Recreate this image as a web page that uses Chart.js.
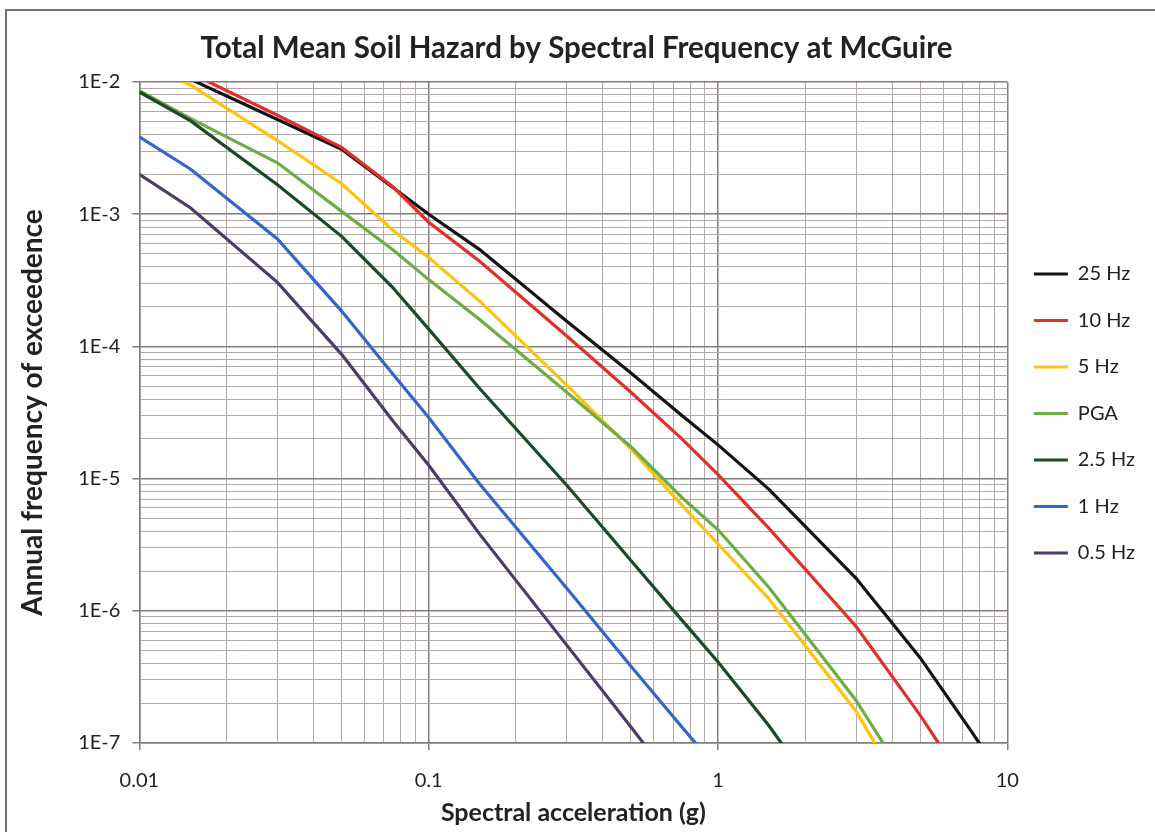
<!DOCTYPE html>
<html>
<head>
<meta charset="utf-8">
<script src="https://cdn.jsdelivr.net/npm/chart.js@4.4.0/dist/chart.umd.min.js"></script>
<style>
  html, body { margin: 0; padding: 0; background: #fff; }
  #wrap { position: relative; width: 1155px; height: 832px; overflow: hidden; }
  #frame {
    position: absolute; left: 5px; top: 9px; right: -20px; bottom: -20px;
    border-top: 2px solid #777171; border-left: 2px solid #777171;
    pointer-events: none;
  }
</style>
</head>
<body>
<div id="wrap">
  <canvas id="hazard" width="1155" height="832"></canvas>
  <div id="frame"></div>
</div>
<script>
// spectral acceleration (g) at which the hazard was computed
const accel = [0.01, 0.015, 0.03, 0.05, 0.075, 0.1, 0.15, 0.3, 0.5, 0.75, 1, 1.5, 3, 5, 7.5, 10];

// annual frequency of exceedence, one array per curve
const hz25  = [1.5e-2, 1.05e-2, 5.2e-3, 3.1e-3, 1.6e-3, 1.0e-3, 5.4e-4, 1.55e-4, 6.3e-5, 3.0e-5, 1.8e-5, 8.3e-6, 1.76e-6, 4.4e-7, 1.23e-7, 4.8e-8];
const hz10  = [1.7e-2, 1.17e-2, 5.6e-3, 3.2e-3, 1.62e-3, 8.7e-4, 4.4e-4, 1.2e-4, 4.5e-5, 2.0e-5, 1.07e-5, 4.2e-6, 7.6e-7, 1.62e-7, 4.2e-8, null];
const hz5   = [1.4e-2, 9.5e-3, 3.6e-3, 1.7e-3, 7.6e-4, 4.7e-4, 2.2e-4, 5.1e-5, 1.68e-5, 6.3e-6, 3.2e-6, 1.23e-6, 1.74e-7, 2.6e-8, null, null];
const pga   = [8.6e-3, 5.3e-3, 2.45e-3, 1.05e-3, 5.4e-4, 3.2e-4, 1.6e-4, 4.5e-5, 1.74e-5, 7.2e-6, 4.1e-6, 1.5e-6, 2.1e-7, 3.6e-8, null, null];
const hz2_5 = [8.4e-3, 5.1e-3, 1.67e-3, 6.8e-4, 2.8e-4, 1.35e-4, 4.8e-5, 8.9e-6, 2.4e-6, 8.5e-7, 4.1e-7, 1.35e-7, 1.6e-8, null, null, null];
const hz1   = [3.85e-3, 2.2e-3, 6.5e-4, 1.85e-4, 6.2e-5, 2.9e-5, 9.1e-6, 1.48e-6, 3.8e-7, 1.32e-7, 6.3e-8, null, null, null, null, null];
const hz0_5 = [2.0e-3, 1.12e-3, 3.05e-4, 8.7e-5, 2.75e-5, 1.26e-5, 3.8e-6, 5.5e-7, 1.32e-7, 4.2e-8, null, null, null, null, null, null];

const seriesNames  = ["25 Hz", "10 Hz", "5 Hz", "PGA", "2.5 Hz", "1 Hz", "0.5 Hz"];
const seriesValues = [hz25, hz10, hz5, pga, hz2_5, hz1, hz0_5];
const seriesColors = ["#141414", "#e0302b", "#ffc20e", "#6cae45", "#1c4a27", "#3366cc", "#4f3b68"];

// axis decades (labelled) and in-between multipliers for the minor grid
const xDecades = [0.01, 0.1, 1, 10];
const yDecades = [1e-7, 1e-6, 1e-5, 1e-4, 1e-3, 1e-2];
const minorSteps = [1, 2, 3, 4, 5, 6, 7, 8, 9];

function gridValues(decades) {
    let vals = [];
    for (let i = 0; i < decades.length - 1; i++) {
        minorSteps.forEach(m => vals.push(m * decades[i]));
    }
    vals.push(decades[decades.length - 1]);
    return vals;
}

function isDecade(v) {
    const l = Math.log10(v);
    return Math.abs(l - Math.round(l)) < 1e-6;
}

const majorGrid = "rgb(132,124,124)";
const minorGrid = "rgb(178,170,170)";
const font = "Lato, 'Open Sans', sans-serif";

const datasets = seriesNames.map((name, i) => ({
    label: name,
    data: accel.map((a, j) => ({ x: a, y: seriesValues[i][j] })),
    borderColor: seriesColors[i],
    backgroundColor: seriesColors[i],
    borderWidth: 3.2,
    pointRadius: 0,
    pointStyle: "line",
    pointBorderColor: seriesColors[i],
    pointBorderWidth: 3,
    tension: 0,
    fill: false,
    clip: 0,
    order: seriesNames.length - i
}));

const gridOpts = {
    color: c => isDecade(c.tick.value) ? majorGrid : minorGrid,
    lineWidth: c => isDecade(c.tick.value) ? 1.5 : 1,
    tickLength: 7,
    tickColor: c => isDecade(c.tick.value) ? majorGrid : "rgba(0,0,0,0)"
};

new Chart(document.getElementById("hazard"), {
    type: "line",
    data: { datasets: datasets },
    options: {
        responsive: false,
        animation: false,
        events: [],
        layout: { padding: { left: 8, right: 10, top: 18, bottom: 0 } },
        plugins: {
            title: {
                display: true,
                text: "Total Mean Soil Hazard by Spectral Frequency at McGuire",
                color: "#222",
                font: { family: font, size: 29.5, weight: "bold" },
                padding: { top: 12.3, bottom: 16.3 }
            },
            legend: {
                position: "right",
                align: "start",
                title: { display: true, text: "", font: { size: 1 }, padding: { top: 218.3, bottom: 0 } },
                labels: {
                    usePointStyle: true,
                    pointStyleWidth: 34,
                    padding: 26.5,
                    color: "#222",
                    font: { family: font, size: 20 },
                    sort: (a, b) => a.datasetIndex - b.datasetIndex
                }
            },
            tooltip: { enabled: false }
        },
        scales: {
            x: {
                type: "logarithmic",
                min: 0.01,
                max: 10,
                afterBuildTicks: s => { s.ticks = gridValues(xDecades).map(v => ({ value: v })); },
                ticks: {
                    autoSkip: false,
                    maxRotation: 0,
                    padding: 19,
                    color: "#222",
                    font: { family: font, size: 20 },
                    callback: v => isDecade(v) ? String(v) : ""
                },
                grid: gridOpts,
                border: { color: majorGrid, width: 1.5 },
                title: {
                    display: true,
                    text: "Spectral acceleration (g)",
                    color: "#222",
                    font: { family: font, size: 25, weight: "bold" },
                    padding: { top: -14, bottom: 4 }
                }
            },
            y: {
                type: "logarithmic",
                min: 1e-7,
                max: 1e-2,
                afterBuildTicks: s => { s.ticks = gridValues(yDecades).map(v => ({ value: v })); },
                ticks: {
                    autoSkip: false,
                    padding: 12,
                    color: "#222",
                    font: { family: font, size: 20 },
                    callback: v => isDecade(v) ? "1E" + Math.round(Math.log10(v)) : ""
                },
                grid: gridOpts,
                border: { color: majorGrid, width: 1.5 },
                title: {
                    display: true,
                    text: "Annual frequency of exceedence",
                    color: "#222",
                    font: { family: font, size: 28, weight: "bold" },
                    padding: { top: 8, bottom: 16.6 }
                }
            }
        }
    }
});
</script>
</body>
</html>
